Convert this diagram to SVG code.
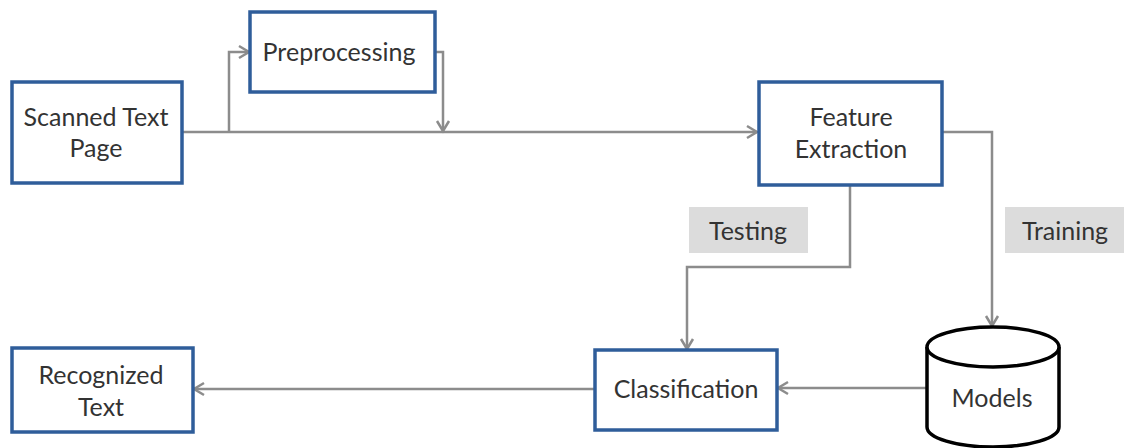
<svg xmlns="http://www.w3.org/2000/svg" width="1128" height="448" viewBox="0 0 1128 448">
<style>
.box{fill:#ffffff;stroke:#2f5d9a;stroke-width:3.5}
.lbl{fill:#333333;font-family:Lato,"Open Sans","Liberation Sans",sans-serif;font-size:25px;text-anchor:middle}
.tag{fill:#dcdcdc;stroke:none}
.con{fill:none;stroke:#8c8c8c;stroke-width:2.5}
.db{fill:#ffffff;stroke:#000000;stroke-width:3.5}
</style>
<defs>
<marker id="arr" markerUnits="userSpaceOnUse" markerWidth="16" markerHeight="16" viewBox="-12 -8 14 16" refX="0" refY="0" orient="auto">
<path d="M-10,-6 L0,0 L-10,6" fill="none" stroke="#8c8c8c" stroke-width="2.5"/>
</marker>
</defs>
<g id="connectors">
<path class="con" d="M182,132 L757,132" marker-end="url(#arr)"/>
<path class="con" d="M229,132 L229,52 L249,52" marker-end="url(#arr)"/>
<path class="con" d="M435,52 L443,52 L443,131" marker-end="url(#arr)"/>
<path class="con" d="M850,185 L850,267 L687,267 L687,349" marker-end="url(#arr)"/>
<path class="con" d="M942,132 L992,132 L992,326" marker-end="url(#arr)"/>
<path class="con" d="M927,388 L778,388" marker-end="url(#arr)"/>
<path class="con" d="M595,389 L194,389" marker-end="url(#arr)"/>
</g>
<g id="scanned">
<rect class="box" x="12" y="82" width="170" height="101"/>
<text class="lbl" x="96" y="126">Scanned Text</text>
<text class="lbl" x="96" y="157">Page</text>
</g>
<g id="preprocessing">
<rect class="box" x="250" y="12" width="185" height="80"/>
<text class="lbl" x="339" y="61">Preprocessing</text>
</g>
<g id="feature">
<rect class="box" x="759" y="82" width="183" height="103"/>
<text class="lbl" x="851" y="126">Feature</text>
<text class="lbl" x="851" y="158">Extraction</text>
</g>
<g id="testing">
<rect class="tag" x="689" y="207" width="119" height="46"/>
<text class="lbl" x="748" y="240">Testing</text>
</g>
<g id="training">
<rect class="tag" x="1005" y="207" width="119" height="46"/>
<text class="lbl" x="1065" y="240">Training</text>
</g>
<g id="classification">
<rect class="box" x="595" y="350" width="182" height="80"/>
<text class="lbl" x="686" y="398">Classification</text>
</g>
<g id="models">
<path class="db" d="M927,347 L927,427 A66,20 0 0 0 1059,427 L1059,347"/>
<ellipse class="db" cx="993" cy="347" rx="66" ry="20"/>
<text class="lbl" x="992" y="407">Models</text>
</g>
<g id="recognized">
<rect class="box" x="12" y="348" width="181" height="84"/>
<text class="lbl" x="101" y="384">Recognized</text>
<text class="lbl" x="101" y="416">Text</text>
</g>
</svg>
